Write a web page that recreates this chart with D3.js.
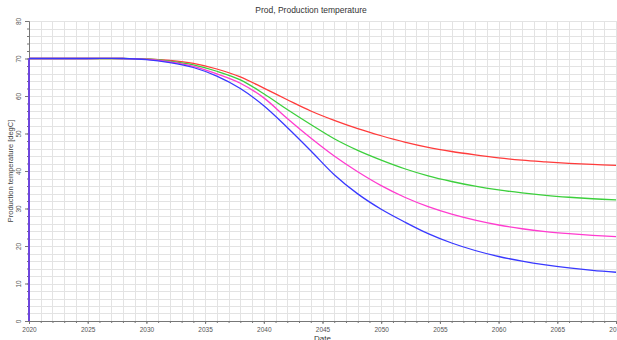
<!DOCTYPE html>
<html>
<head>
<meta charset="utf-8">
<script src="https://cdn.jsdelivr.net/npm/d3@7"></script>
<style>
  html, body { margin: 0; padding: 0; background: #fff; }
  svg { display: block; font-family: "Liberation Sans", Arial, sans-serif; }
</style>
</head>
<body>
<svg id="chart" width="617" height="340"></svg>
<script>
// Simulated production temperature for four cases (degC), one value per date.
// The first sample is the initial state at start-up (0 degC), then 70 degC.
const years = [2020, 2020, 2025, 2028, 2030, 2032, 2034, 2036, 2038, 2040, 2042, 2044,
               2046, 2048, 2050, 2052, 2054, 2056, 2058, 2060, 2062, 2064, 2066, 2068, 2070];
const redSeries     = [0, 70, 70, 70, 69.9, 69.5, 68.7, 67.2, 65.1, 62.1, 59.0, 56.0,
                       53.5, 51.3, 49.4, 47.7, 46.3, 45.2, 44.3, 43.5, 42.9, 42.45, 42.05, 41.75, 41.5];
const greenSeries   = [0, 70, 70, 70, 69.9, 69.3, 68.3, 66.6, 64.3, 60.6, 56.4, 52.4,
                       48.6, 45.5, 42.9, 40.6, 38.7, 37.2, 35.95, 34.95, 34.15, 33.5, 33.0, 32.6, 32.3];
const magentaSeries = [0, 70, 70, 70, 69.8, 69.1, 67.9, 65.9, 63.4, 59.5, 54.0, 48.8,
                       44.0, 39.8, 36.1, 33.0, 30.5, 28.5, 26.9, 25.6, 24.6, 23.85, 23.3, 22.85, 22.5];
const blueSeries    = [0, 70, 70, 70, 69.7, 68.9, 67.6, 65.3, 62.0, 57.4, 51.6, 45.4,
                       39.0, 33.9, 29.8, 26.4, 23.3, 20.8, 18.8, 17.2, 15.95, 14.95, 14.15, 13.5, 13.0];

const xTickLabels = [2020, 2025, 2030, 2035, 2040, 2045, 2050, 2055, 2060, 2065, 2070];
const yTickLabels = [0, 10, 20, 30, 40, 50, 60, 70, 80];

const titleText = "Prod, Production temperature";
const xTitle = "Date";
const yTitle = "Production temperature [degC]";

const series = [
  { values: redSeries,     color: "#ff3b3b" },
  { values: greenSeries,   color: "#3ccf3c" },
  { values: magentaSeries, color: "#ff3ccf" },
  { values: blueSeries,    color: "#3838ff" }
];

const svg = d3.select("#chart");
const margin = { left: 29, right: 1, top: 21, bottom: 19 };
const W = 617, H = 340;

const x = d3.scaleLinear().domain([2020, 2070]).range([margin.left, W - margin.right]);
const y = d3.scaleLinear().domain([0, 80]).range([H - margin.bottom, margin.top]);

// grid: every year vertically, every 2 degC horizontally
const grid = svg.append("g").attr("stroke", "#e3e3e3").attr("stroke-width", 1);
grid.selectAll("line.v").data(d3.range(2021, 2071, 1)).join("line")
  .attr("x1", d => Math.round(x(d)) + 0.5).attr("x2", d => Math.round(x(d)) + 0.5)
  .attr("y1", y(80)).attr("y2", y(0));
grid.selectAll("line.h").data(d3.range(2, 81, 2)).join("line")
  .attr("y1", d => Math.round(y(d)) + 0.5).attr("y2", d => Math.round(y(d)) + 0.5)
  .attr("x1", x(2020)).attr("x2", x(2070));

// axes
const axisColor = "#777";
const labelColor = "#555";

const xMinor = svg.append("g").attr("transform", `translate(0,${y(0)})`)
  .call(d3.axisBottom(x).tickValues(d3.range(2020, 2071, 1)).tickSize(2).tickFormat(""));
xMinor.select(".domain").remove();
xMinor.selectAll("line").attr("stroke", axisColor);

const xAxis = svg.append("g").attr("transform", `translate(0,${y(0)})`)
  .call(d3.axisBottom(x).tickValues(xTickLabels).tickSize(3).tickPadding(3).tickFormat(d3.format("d")));
xAxis.select(".domain").attr("stroke", axisColor);
xAxis.selectAll("line").attr("stroke", axisColor);
xAxis.selectAll("text").attr("fill", labelColor).attr("font-size", 6.5)
  .attr("font-family", "Liberation Sans, Arial, sans-serif");

const yMinor = svg.append("g").attr("transform", `translate(${x(2020)},0)`)
  .call(d3.axisLeft(y).tickValues(d3.range(0, 81, 2)).tickSize(2).tickFormat(""));
yMinor.select(".domain").remove();
yMinor.selectAll("line").attr("stroke", axisColor);

const yAxis = svg.append("g").attr("transform", `translate(${x(2020)},0)`)
  .call(d3.axisLeft(y).tickValues(yTickLabels).tickSize(4).tickFormat(d3.format("d")));
yAxis.select(".domain").attr("stroke", axisColor);
yAxis.selectAll("line").attr("stroke", axisColor);
yAxis.selectAll("text")
  .attr("fill", labelColor).attr("font-size", 6.5)
  .attr("font-family", "Liberation Sans, Arial, sans-serif")
  .attr("x", 0).attr("dy", null)
  .attr("text-anchor", "middle")
  .attr("transform", "translate(-8,0) rotate(-90)");

// series: start-up step drawn straight, the decline drawn as a smooth curve
const stepLine = d3.line().x(d => x(d[0])).y(d => y(d[1]));
const smoothLine = d3.line().x(d => x(d[0])).y(d => y(d[1])).curve(d3.curveCatmullRom.alpha(0.5));

const lines = svg.append("g").attr("fill", "none").attr("stroke-width", 1.3);
series.forEach(s => {
  const pts = years.map((yr, i) => [yr, s.values[i]]);
  lines.append("path").attr("d", stepLine(pts.slice(0, 2))).attr("stroke", s.color);
  lines.append("path").attr("d", smoothLine(pts.slice(1))).attr("stroke", s.color);
});

// titles
svg.append("text").attr("x", 311).attr("y", 12.5).attr("text-anchor", "middle")
  .attr("font-size", 8.5).attr("fill", "#333").text(titleText);
svg.append("text").attr("x", (x(2020) + x(2070)) / 2).attr("y", 340.5).attr("text-anchor", "middle")
  .attr("font-size", 8).attr("fill", "#333").text(xTitle);
svg.append("text").attr("transform", `translate(13,${(y(0) + y(80)) / 2}) rotate(-90)`)
  .attr("text-anchor", "middle").attr("font-size", 7.5).attr("fill", "#444").text(yTitle);
</script>
</body>
</html>
